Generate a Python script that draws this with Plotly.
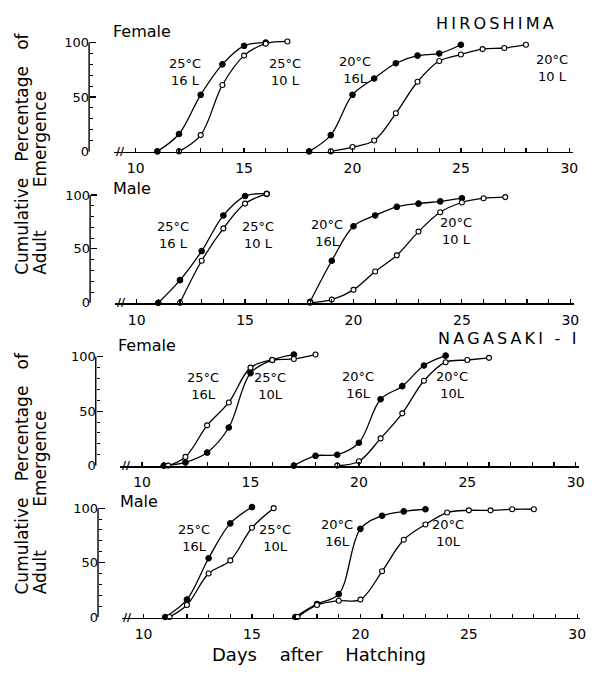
import plotly.graph_objects as go

W, H = 607, 673

# ---------------- data (days after hatching, cumulative % emergence) ----------------
# HIROSHIMA female
hf_f25_days = [11, 12, 13, 14, 15, 16]
hf_f25_vals = [0, 16, 52, 80, 97, 100]
hf_o25_days = [12, 13, 14, 15, 16, 17]
hf_o25_vals = [0, 15, 61, 88, 99, 101]
hf_f20_days = [18, 19, 20, 21, 22, 23, 24, 25]
hf_f20_vals = [0, 15, 52, 67, 81, 88, 90, 98]
hf_o20_days = [19, 20, 21, 22, 23, 24, 25, 26, 27, 28]
hf_o20_vals = [0, 4, 10, 35, 64, 83, 89, 94, 95, 98]

# HIROSHIMA male
hm_f25_days = [11, 12, 13, 14, 15, 16]
hm_f25_vals = [0, 21, 48, 81, 99, 101]
hm_o25_days = [12, 13, 14, 15, 16]
hm_o25_vals = [0, 39, 69, 92, 101]
hm_f20_days = [18, 19, 20, 21, 22, 23, 24, 25]
hm_f20_vals = [1, 39, 71, 81, 89, 92, 94, 97]
hm_o20_days = [18, 19, 20, 21, 22, 23, 24, 25, 26, 27]
hm_o20_vals = [0, 3, 12, 29, 44, 66, 84, 93, 97, 98]

# NAGASAKI-I female
nf_f25_days = [11, 12, 13, 14, 15, 16, 17]
nf_f25_vals = [0, 3, 12, 35, 85, 97, 102]
nf_o25_days = [11.2, 12, 13, 14, 15, 16, 17, 18]
nf_o25_vals = [0, 8, 37, 58, 90, 97, 98, 102]
nf_f20_days = [17, 18, 19, 20, 21, 22, 23, 24]
nf_f20_vals = [0, 9, 10, 21, 61, 73, 92, 101]
nf_o20_days = [19, 20, 21, 22, 23, 24, 25, 26]
nf_o20_vals = [0, 4, 25, 48, 78, 95, 97, 99]

# NAGASAKI-I male
nm_f25_days = [11, 12, 13, 14, 15]
nm_f25_vals = [0, 16, 54, 86, 101]
nm_o25_days = [11.2, 12, 13, 14, 15, 16]
nm_o25_vals = [0, 11, 40, 52, 82, 100]
nm_f20_days = [17, 18, 19, 20, 21, 22, 23]
nm_f20_vals = [0, 12, 21, 81, 93, 97, 99]
nm_o20_days = [17.1, 18, 19, 20, 21, 22, 23, 24, 25, 26, 27, 28]
nm_o20_vals = [0, 11, 15, 16, 42, 71, 85, 96, 98, 98, 99, 99]

# panel texts
panel_sex = ["Female", "Male", "Female", "Male"]
strain_labels = ["HIROSHIMA", "NAGASAKI - I"]
cond_labels = [
    ["25°C<br>16 L", "25°C<br>10 L", "20°C<br>16L", "20°C<br>10 L"],
    ["25°C<br>16 L", "25°C<br>10 L", "20°C<br>16L", "20°C<br>10 L"],
    ["25°C<br>16L", "25°C<br>10L", "20°C<br>16L", "20°C<br>10L"],
    ["25°C<br>16L", "25°C<br>10L", "20°C<br>16L", "20°C<br>10L"],
]
# label anchor positions (day, %) for each condition label
cond_pos = [
    [(12.28, 73), (16.9, 73), (20.1, 75), (29.18, 77)],
    [(11.69, 63), (15.62, 63), (18.77, 65), (24.75, 67)],
    [(12.81, 73), (15.91, 73), (19.98, 74), (24.27, 74)],
    [(12.33, 73), (16.07, 73), (18.9, 77), (24.02, 77)],
]
x_tick_vals = list(range(10, 31))
x_tick_text = [str(v) if v % 5 == 0 else "" for v in x_tick_vals]
y_title_1 = "Cumulative\u00a0\u00a0\u00a0Percentage\u00a0\u00a0\u00a0of"
y_title_2 = "Adult\u00a0\u00a0\u00a0\u00a0\u00a0\u00a0\u00a0\u00a0Emergence"
x_title = "Days\u00a0\u00a0\u00a0\u00a0after\u00a0\u00a0\u00a0\u00a0Hatching"

series = [
    [(hf_f25_days, hf_f25_vals, True), (hf_o25_days, hf_o25_vals, False),
     (hf_f20_days, hf_f20_vals, True), (hf_o20_days, hf_o20_vals, False)],
    [(hm_f25_days, hm_f25_vals, True), (hm_o25_days, hm_o25_vals, False),
     (hm_f20_days, hm_f20_vals, True), (hm_o20_days, hm_o20_vals, False)],
    [(nf_f25_days, nf_f25_vals, True), (nf_o25_days, nf_o25_vals, False),
     (nf_f20_days, nf_f20_vals, True), (nf_o20_days, nf_o20_vals, False)],
    [(nm_f25_days, nm_f25_vals, True), (nm_o25_days, nm_o25_vals, False),
     (nm_f20_days, nm_f20_vals, True), (nm_o20_days, nm_o20_vals, False)],
]

# ---------------- layout geometry (pixels) ----------------
PXD = 21.9                  # pixels per day
XR = [9.0, 30.15]
YR = [-0.6, 108]
geom = [  # x pixel of day 10, y-axis x pixel, y pixel of 0 %, y pixel of 100 %
    (137, 90, 153, 43),
    (138, 91, 306, 197),
    (143.5, 96.7, 470.5, 360.5),
    (145, 99, 623.5, 513.5),
]
FONT = "DejaVu Sans"

fig = go.Figure()
layout = dict(
    width=W, height=H, margin=dict(l=0, r=0, t=0, b=0),
    paper_bgcolor="white", plot_bgcolor="white", showlegend=False,
    font=dict(family=FONT, color="black", size=13),
)
shapes, annotations = [], []

for i, (x10, yax, y0, y100) in enumerate(geom):
    n = "" if i == 0 else str(i + 1)
    s = (y0 - y100) / 100.0
    top = y100 - (YR[1] - 100) * s
    bot = y0 - YR[0] * s
    xl = x10 + (XR[0] - 10) * PXD
    xr = x10 + (XR[1] - 10) * PXD
    layout["xaxis" + n] = dict(
        domain=[xl / W, xr / W], range=XR, anchor="y" + n,
        showline=True, linecolor="black", linewidth=1.4,
        ticks="inside", ticklen=4, tickwidth=1.2, tickcolor="black",
        tickmode="array", tickvals=x_tick_vals, ticktext=x_tick_text,
        tickfont=dict(family=FONT, size=14), showgrid=False, zeroline=False,
        ticklabelstandoff=3,
    )
    layout["yaxis" + n] = dict(
        domain=[1 - bot / H, 1 - top / H], range=YR, anchor="free",
        position=yax / W, showline=False, ticks="inside", ticklen=6,
        tickwidth=1.2, tickcolor="black", tick0=0, dtick=50,
        minor=dict(ticks="inside", ticklen=3, dtick=10, tick0=0,
                   tickcolor="black", tickwidth=1),
        tickfont=dict(family=FONT, size=13), showgrid=False, zeroline=False,
    )
    # y-axis line from 0 % to 100 %
    shapes.append(dict(type="line", xref="paper", yref="paper",
                       x0=yax / W, x1=yax / W, y0=1 - y0 / H, y1=1 - y100 / H,
                       line=dict(color="black", width=1.4)))
    # axis break mark
    annotations.append(dict(x=9.28, y=0, xref="x" + n, yref="y" + n, text="<b>//</b>",
                            showarrow=False, font=dict(size=11, family=FONT),
                            xanchor="center", yanchor="middle"))
    # data
    for days, vals, filled in series[i]:
        fig.add_trace(go.Scatter(
            x=days, y=vals, xaxis="x" + n, yaxis="y" + n, mode="lines+markers",
            line=dict(color="black", width=1.3, shape="spline", smoothing=1.0),
            marker=dict(symbol="circle", size=5.5 if filled else 5,
                        color="black" if filled else "white",
                        line=dict(color="black", width=1.1)),
            cliponaxis=False, hoverinfo="skip"))
    for (dx, dy), txt in zip(cond_pos[i], cond_labels[i]):
        annotations.append(dict(x=dx, y=dy, xref="x" + n, yref="y" + n, text=txt,
                                showarrow=False, font=dict(size=13, family=FONT),
                                xanchor="center", yanchor="middle", align="center"))

# panel titles
sex_pos = [(113, 32), (113, 190), (118, 349), (120, 507)]
for (px, py), t in zip(sex_pos, panel_sex):
    annotations.append(dict(x=px / W, y=1 - py / H, xref="paper", yref="paper", text=t,
                            showarrow=False, font=dict(size=16, family=FONT),
                            xanchor="left", yanchor="middle", borderpad=0))
strain_pos = [(500, 23.5), (512, 342)]
for (px, py), t in zip(strain_pos, strain_labels):
    annotations.append(dict(x=px / W, y=1 - py / H, xref="paper", yref="paper",
                            text="\u2009".join(t), showarrow=False,
                            font=dict(size=16, family=FONT),
                            xanchor="center", yanchor="middle"))

# axis titles
for base in (280, 603):
    annotations.append(dict(x=22 / W, y=1 - base / H, xref="paper", yref="paper",
                            text=y_title_1, textangle=-90, showarrow=False,
                            font=dict(size=17, family=FONT),
                            xanchor="center", yanchor="bottom"))
    annotations.append(dict(x=40 / W, y=1 - base / H, xref="paper", yref="paper",
                            text=y_title_2, textangle=-90, showarrow=False,
                            font=dict(size=17, family=FONT),
                            xanchor="center", yanchor="bottom"))
annotations.append(dict(x=322.5 / W, y=1 - 661 / H, xref="paper", yref="paper",
                        text=x_title, showarrow=False, font=dict(size=18, family=FONT),
                        xanchor="center", yanchor="middle"))

layout["shapes"] = shapes
layout["annotations"] = annotations
fig.update_layout(**layout)
fig.write_html("out.html", config={"displayModeBar": False, "staticPlot": True},
               post_script="document.body.style.margin='0';document.body.style.padding='0';")
